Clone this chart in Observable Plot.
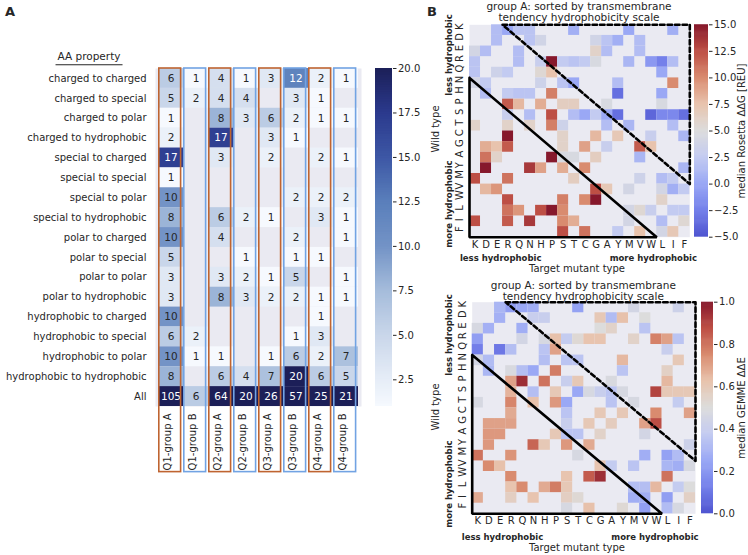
<!DOCTYPE html>
<html>
<head>
<meta charset="utf-8">
<script src="https://cdn.jsdelivr.net/npm/d3@7"></script>
<script src="https://cdn.jsdelivr.net/npm/@observablehq/plot@0.6"></script>
<style>
html,body{margin:0;padding:0;background:#fff;}
#root{position:relative;width:748px;height:555px;overflow:hidden;font-family:"DejaVu Sans",sans-serif;color:#262626;background:#fff;}
</style>
</head>
<body>
<div id="root"></div>
<script>
const _ = null;

// ---------- Panel A data ----------
const quarters = ["Q1-group A","Q1-group B","Q2-group A","Q2-group B","Q3-group A","Q3-group B","Q4-group A","Q4-group B"];
const aaProperties = ["charged to charged","charged to special","charged to polar","charged to hydrophobic",
  "special to charged","special to special","special to polar","special to hydrophobic",
  "polar to charged","polar to special","polar to polar","polar to hydrophobic",
  "hydrophobic to charged","hydrophobic to special","hydrophobic to polar","hydrophobic to hydrophobic","All"];
const q1GroupA = [6,5,1,2,17,1,10,8,10,5,3,3,10,6,10,8,105];
const q1GroupB = [1,2,_,_,_,_,_,_,_,_,_,_,_,2,1,_,6];
const q2GroupA = [4,4,8,17,3,_,_,6,4,_,3,8,_,_,1,6,64];
const q2GroupB = [1,4,3,_,_,_,_,2,_,1,2,3,_,_,_,4,20];
const q3GroupA = [3,_,6,3,2,_,_,1,_,_,1,2,_,_,1,7,26];
const q3GroupB = [12,3,2,1,_,_,2,_,2,1,5,2,_,1,6,20,57];
const q4GroupA = [2,1,1,_,2,_,2,3,_,1,_,1,1,3,2,6,25];
const q4GroupB = [1,_,1,_,1,_,2,1,1,_,1,1,_,_,7,5,21];
const countsByQuarter = [q1GroupA,q1GroupB,q2GroupA,q2GroupB,q3GroupA,q3GroupB,q4GroupA,q4GroupB];
const colorbarTicksA = [2.5,5,7.5,10,12.5,15,17.5,20];

// ---------- Panel B data ----------
const aminoAcids = ["K","D","E","R","Q","N","H","P","S","T","C","G","A","Y","M","V","W","L","I","F"];
// rows = wild type (top to bottom), columns = target mutant type
const rosettaDDG = [
  [_,_,1.5,0,2,2,_,_,_,0.5,_,_,_,_,0,_,_,_,0.5,_],
  [_,_,1.5,_,_,2,3.8,_,_,_,_,3.8,2,0.5,_,1.5,_,_,_,_],
  [4,1.5,_,_,1.5,_,_,_,_,_,_,6,1.5,_,_,1.5,_,_,_,_],
  [2,_,_,_,1.5,_,3,15,2.5,2,2.5,4.5,_,_,1,_,-1,-2.5,1.5,_],
  [2,_,3.5,2.5,_,_,5.5,7.5,_,_,_,_,_,_,_,_,_,0,_,_],
  [4,2.5,_,_,_,_,3.5,_,2,0,_,_,_,1.5,_,_,_,_,10,_],
  [_,1.5,_,2.5,2,2,_,10.5,_,_,_,_,_,-3.5,_,_,_,0,_,_],
  [_,_,_,12,8,_,8.5,_,6.5,6.5,_,_,4.5,_,_,_,_,4.5,_,_],
  [_,_,_,3,_,1.5,_,12.5,_,1.5,0,2.5,0,-3.5,_,_,-4,-2,-2,-3.5],
  [6,_,_,6,_,6,_,10.5,3.5,_,_,_,1.5,_,1,_,_,_,1.5,_],
  [_,_,_,15,_,_,_,_,6,_,_,8,_,7,_,_,3,_,_,1],
  [_,8.5,7.5,12,_,_,_,_,6,_,9,_,3,_,_,12,7.5,_,_,_],
  [_,11,6,_,_,_,_,15,4.5,4.5,_,6.5,_,_,_,1,_,_,_,_],
  [_,15,_,_,_,13.5,9,_,8.5,_,10,_,_,_,_,_,_,_,_,1],
  [12.5,_,_,11,_,_,_,_,_,6.5,_,_,_,_,_,3.5,_,1.5,2.5,_],
  [_,8,9.5,_,_,_,_,_,_,_,_,12.5,7,_,4,_,_,4,0.5,2.5],
  [_,_,_,12.5,_,_,_,_,10.5,_,10,15,_,_,_,_,_,6,_,_],
  [_,_,_,11,9.5,_,12.5,15,10,_,_,_,_,_,4,5.5,3,_,2.5,2.5],
  [12.5,_,_,12,_,13.5,_,_,10,8.5,_,_,_,_,4,_,_,1.5,_,5.5],
  [_,_,_,_,_,_,_,_,12.5,_,11,_,_,2.5,_,7.5,_,4,7,_]
];
const gemmeDDE = [
  [_,_,.3,.22,.25,.27,_,_,_,.23,_,_,_,_,.45,_,_,_,.42,_],
  [_,_,.28,_,_,.4,.4,_,_,_,_,.6,.32,.63,_,.5,_,_,_,_],
  [.47,.28,_,_,.27,_,_,_,_,_,_,.5,.55,_,_,.35,_,_,_,_],
  [.22,_,_,_,.45,_,.47,.63,.38,.52,.62,.62,_,_,.55,_,.77,.7,.35,_],
  [.12,_,.1,.33,_,_,.35,.7,_,_,_,_,_,_,_,_,_,.4,_,_],
  [.45,.32,_,_,_,_,.33,_,.35,.35,_,_,_,.65,_,_,_,_,.6,_],
  [_,.3,_,.48,.33,.25,_,.78,_,_,_,_,_,.35,_,_,_,.56,_,_],
  [_,_,_,.7,.95,_,.8,_,.4,.6,_,_,.48,_,_,_,_,.65,_,_],
  [_,_,_,.66,_,.33,_,.6,_,.25,.47,.4,.35,.47,_,_,.9,.6,.6,.6],
  [.47,_,_,.76,_,.63,_,.72,.25,_,_,_,.35,_,.47,_,_,_,.38,_],
  [_,_,_,.68,_,_,_,_,.35,_,_,.6,_,.6,_,_,.75,_,_,.7],
  [_,.7,.7,.7,_,_,_,_,.4,_,.6,_,.58,_,_,.7,.88,_,_,_],
  [_,.72,.72,_,_,_,_,.6,.35,.35,_,.55,_,_,_,.45,_,_,_,_],
  [_,.72,_,_,_,.83,.6,_,.72,_,.68,_,_,_,_,_,_,_,_,.42],
  [.8,_,_,.73,_,_,_,_,_,.47,_,_,_,_,_,.27,_,.23,.32,_],
  [_,.75,.63,_,_,_,_,_,_,_,_,.62,.38,_,.35,_,_,.3,.27,.47],
  [_,_,_,.75,_,_,_,_,.62,_,.85,.95,_,_,_,_,_,.8,_,_],
  [_,_,_,.62,.75,_,.68,.78,.6,_,_,_,_,_,.33,.33,.65,_,.38,.5],
  [.68,_,_,.57,_,.62,_,_,.57,.52,_,_,_,_,.27,.27,_,.22,_,.56],
  [_,_,_,_,_,_,_,_,.47,_,.63,_,_,.52,_,.22,_,.32,.47,_]
];
const rosettaTicks = [-5,-2.5,0,2.5,5,7.5,10,12.5,15];
const gemmeTicks = [0,0.2,0.4,0.6,0.8,1];
// triangle outlines, in cell units (column, row)
const solidTriangle = [[0,5],[17,20],[0,20],[0,5]];
const dashedTriangle = [[3,0],[20,0],[20,15],[3,0]];

// ---------- colours ----------
const bluesA = ["#f6f9fe","#e6edf7","#c9d6ea","#a5bcdb","#7393c6","#5a7fbb","#3d57a5","#2b3a8d","#1c1f58"];
const bluesDomain = [1,2.5,5,7.5,10,12.5,15,17.5,20];
const coolwarm = ["#4f55d0","#7480ea","#9aa8f5","#c3cbf1","#dcdcdc","#e8c3ad","#d98b6f","#bd4f45","#86182c"];
const nanColor = "#EAEAF2";
const groupAColor = "#bf6431", groupBColor = "#72a3e3";

const root = document.getElementById("root");
const svgStyle = (left, top) => `position:absolute;left:${left}px;top:${top}px;background:transparent;font-family:'DejaVu Sans',sans-serif;font-size:10px;color:#262626;overflow:visible;max-width:none;`;

function label(txt, x, y, o = {}) {
  const d = document.createElement("div");
  d.textContent = txt;
  d.style.cssText = `position:absolute;left:${x}px;top:${y}px;white-space:nowrap;line-height:1;font-size:${o.size||10}px;font-weight:${o.bold?"bold":"normal"};transform:translate(-50%,-50%)${o.rot?" rotate(-90deg)":""};` + (o.extra||"");
  root.appendChild(d);
  return d;
}

// ---------- Panel A heatmap ----------
const cellsA = countsByQuarter.flatMap((col, ci) => col.map((v, r) => v == null ? null : {q: quarters[ci], r, v})).filter(Boolean);
const plotA = Plot.plot({
  width: 365, height: 480,
  marginLeft: 155, marginRight: 4, marginTop: 68, marginBottom: 74,
  style: svgStyle(0, 0),
  x: {type: "band", domain: quarters, padding: 0, axis: null},
  y: {domain: [0, 17], reverse: true, axis: null},
  color: {type: "linear", domain: bluesDomain, range: bluesA, interpolate: "rgb", clamp: true},
  marks: [
    Plot.frame({fill: nanColor, stroke: "none"}),
    Plot.barY(cellsA, {x: "q", y1: "r", y2: d => d.r + 1, fill: "v"}),
    Plot.text(cellsA.filter(d => d.v <= 10.5), {x: "q", y: d => d.r + 0.5, text: d => String(d.v), fill: "#262626", fontSize: 10.5}),
    Plot.text(cellsA.filter(d => d.v > 10.5), {x: "q", y: d => d.r + 0.5, text: d => String(d.v), fill: "white", fontSize: 10.5}),
    Plot.text(aaProperties, {y: (d, i) => i + 0.5, text: d => d, frameAnchor: "left", textAnchor: "end", dx: -9}),
    Plot.text(quarters, {x: d => d, text: d => d, frameAnchor: "bottom", rotate: -90, textAnchor: "end", dy: 7}),
    Plot.barY(quarters.filter((q, i) => i % 2 === 0), {x: d => d, y1: 0, y2: 20.3, fill: "none", stroke: groupAColor, strokeWidth: 1.6, insetLeft: 0.8, insetRight: 2.4}),
    Plot.barY(quarters.filter((q, i) => i % 2 === 1), {x: d => d, y1: 0, y2: 20.3, fill: "none", stroke: groupBColor, strokeWidth: 1.6, insetLeft: 0.8, insetRight: 2.4})
  ]
});
root.appendChild(plotA);

function colorbar({lo, hi, domain, range, ticks, left, top, width, height, mL, mR, mT, mB}) {
  const n = 200, step = (hi - lo) / n;
  return Plot.plot({
    width, height, marginLeft: mL, marginRight: mR, marginTop: mT, marginBottom: mB,
    style: svgStyle(left, top),
    x: {domain: [0, 1], axis: null},
    y: {domain: [lo, hi]},
    color: {type: "linear", domain, range, interpolate: "rgb", clamp: true},
    marks: [
      Plot.rect(d3.range(n), {x1: 0, x2: 1, y1: i => lo + i * step, y2: i => Math.min(hi, lo + (i + 1.6) * step), fill: i => lo + (i + 0.5) * step}),
      Plot.axisY(ticks, {anchor: "right", tickSize: 3.5, tickPadding: 2, tickFormat: d3.format(".1f"), label: null})
    ]
  });
}

root.appendChild(colorbar({lo: 1, hi: 20, domain: bluesDomain, range: bluesA, ticks: colorbarTicksA,
  left: 360, top: 0, width: 65, height: 480, mL: 15, mR: 33, mT: 68, mB: 74}));

// ---------- Panel B heatmaps ----------
function heatB(matrix, domain, left, top, width, height, mL, mR, mT, mB) {
  const cells = matrix.flatMap((row, r) => row.map((v, c) => v == null ? null : {r, c, v})).filter(Boolean);
  return Plot.plot({
    width, height, marginLeft: mL, marginRight: mR, marginTop: mT, marginBottom: mB,
    style: svgStyle(left, top),
    x: {domain: [0, 20], axis: null},
    y: {domain: [0, 20], reverse: true, axis: null},
    color: {type: "linear", domain, range: coolwarm, interpolate: "rgb", clamp: true},
    marks: [
      Plot.frame({fill: nanColor, stroke: "none"}),
      Plot.rect(cells, {x1: "c", x2: d => d.c + 1, y1: "r", y2: d => d.r + 1, fill: "v"}),
      Plot.text(aminoAcids, {x: (d, i) => i + 0.5, text: d => d, frameAnchor: "bottom", dy: 10.5}),
      Plot.text(aminoAcids, {y: (d, i) => i + 0.5, text: d => d, frameAnchor: "left", dx: -9.5, rotate: -90}),
      Plot.line(solidTriangle, {x: d => d[0], y: d => d[1], stroke: "black", strokeWidth: 2.6, strokeLinejoin: "miter"}),
      Plot.line(dashedTriangle, {x: d => d[0], y: d => d[1], stroke: "black", strokeWidth: 2.6, strokeDasharray: "4.5,3"})
    ]
  });
}

const rosettaDomain = [-5,-2.5,0,2.5,5,7.5,10,12.5,15];
const gemmeDomain = [0,0.125,0.25,0.375,0.5,0.625,0.75,0.875,1];

root.appendChild(heatB(rosettaDDG, rosettaDomain, 420, 0, 275, 280, 49, 5.7, 24.3, 43.3));
root.appendChild(colorbar({lo: -5, hi: 15, domain: rosettaDomain, range: coolwarm, ticks: rosettaTicks,
  left: 680, top: 0, width: 68, height: 280, mL: 14, mR: 40, mT: 24.3, mB: 43.3}));

root.appendChild(heatB(gemmeDDE, gemmeDomain, 420, 270, 280, 285, 51.7, 5, 31.7, 41.7));
root.appendChild(colorbar({lo: 0, hi: 1, domain: gemmeDomain, range: coolwarm, ticks: gemmeTicks,
  left: 688, top: 270, width: 60, height: 285, mL: 13, mR: 35, mT: 31.7, mB: 41.7}));

// ---------- text labels ----------
label("A", 10, 11, {size: 13, bold: true});
label("B", 432, 11, {size: 13, bold: true});
label("AA property", 89, 58, {size: 10.5, extra: "border-bottom:1px solid #262626;padding:0 2px 2px 2px;"});

function panelLabels(cx, titleY, wildY, lessY, moreY, bottomY, targetY, cbX, cbY, cbLabel, lessX, moreX) {
  label("group A: sorted by transmembrane", cx, titleY, {size: 10.5});
  label("tendency hydrophobicity scale", cx, titleY + 10.5, {size: 10.5});
  label("Wild type", 436, wildY, {rot: true});
  label("less hydrophobic", 449, lessY, {rot: true, bold: true, size: 8.5});
  label("more hydrophobic", 449, moreY, {rot: true, bold: true, size: 8.5});
  label("less hydrophobic", lessX, bottomY, {bold: true, size: 8.5});
  label("more hydrophobic", moreX, bottomY, {bold: true, size: 8.5});
  label("Target mutant type", 577, targetY);
  label(cbLabel, cbX, cbY, {rot: true});
}
panelLabels(579, 6, 129, 55, 204, 257.5, 268.5, 741.5, 130.5, "median Rosetta ΔΔG [REU]", 500.7, 653.3);
panelLabels(583.3, 285, 407, 335, 484, 536.7, 548, 742, 407.5, "median GEMME ΔΔE", 502.5, 655);
</script>
</body>
</html>
